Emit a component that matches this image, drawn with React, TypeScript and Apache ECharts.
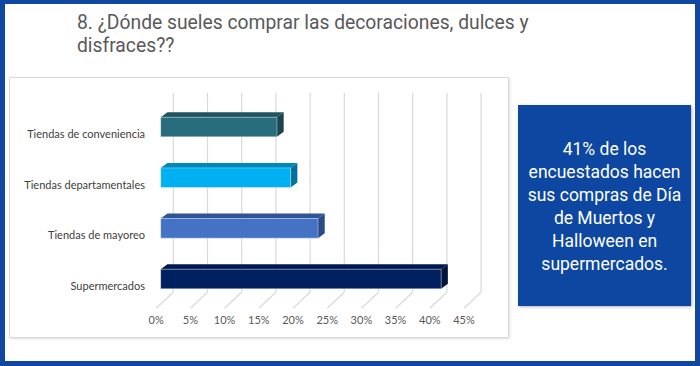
import React, { useEffect, useRef } from "react";
import * as echarts from "echarts";

const categories = [
  "Tiendas de conveniencia",
  "Tiendas departamentales",
  "Tiendas de mayoreo",
  "Supermercados",
];
const values = [17, 19, 23, 41];
const frontColors = ["#286D7C", "#00B0F0", "#4472C4", "#002060"];
const topColors = ["#1F5562", "#0088BA", "#2F5597", "#001A4F"];
const sideColors = ["#1A4550", "#00719C", "#2B4B86", "#00143E"];
const tickValues = [0, 5, 10, 15, 20, 25, 30, 35, 40, 45];
const titleLines = [
  "8. ¿Dónde sueles comprar las decoraciones, dulces y",
  "disfraces??",
];
const noteText =
  "41% de los\nencuestados hacen\nsus compras de Día\nde Muertos y\nHalloween en\nsupermercados.";

const BLUE = "#0F47A1";

export default function App() {
  const ref = useRef<HTMLDivElement>(null);
  useEffect(() => {
    if (!ref.current) return;
    const chart = echarts.init(ref.current, null, { renderer: "svg" });
    const option: any = {
      animation: false,
      backgroundColor: BLUE,
      graphic: [
        {
          type: "rect",
          z: -10,
          silent: true,
          shape: { x: 5, y: 4, width: 690, height: 357 },
          style: { fill: "#FFFFFF" },
        },
        {
          type: "rect",
          z: -9,
          silent: true,
          shape: { x: 9.5, y: 77.5, width: 499, height: 260 },
          style: {
            fill: "#FFFFFF",
            stroke: "#D9D9D9",
            lineWidth: 1,
            shadowBlur: 2,
            shadowColor: "rgba(0,0,0,0.12)",
            shadowOffsetX: 1,
            shadowOffsetY: 1,
          },
        },
        {
          type: "rect",
          z: -9,
          silent: true,
          shape: { x: 518, y: 105, width: 173, height: 201 },
          style: {
            fill: BLUE,
            shadowBlur: 3,
            shadowColor: "rgba(0,0,0,0.3)",
            shadowOffsetX: 1,
            shadowOffsetY: 1,
          },
        },
        {
          type: "text",
          x: 604.5,
          y: 206,
          style: {
            text: noteText,
            fill: "#FFFFFF",
            fontFamily: "Roboto",
            fontSize: 17.5,
            align: "center",
            verticalAlign: "middle",
            lineHeight: 23,
          },
        },
        ...titleLines.map((t, i) => ({
          type: "text",
          x: 77,
          y: 22.5 + i * 23,
          style: {
            text: t,
            fill: "#595959",
            fontFamily: "Roboto",
            fontSize: 19.3,
            align: "left",
            verticalAlign: "middle",
          },
        })),
      ],
      grid: {
        left: 160.7,
        right: 700 - (160.7 + 9 * 34.2),
        top: 101.7,
        bottom: 61.7,
        containLabel: false,
      },
      xAxis: {
        type: "value",
        min: 0,
        max: 45,
        interval: 5,
        axisLine: { show: false },
        axisTick: { show: false },
        splitLine: { show: false },
        axisLabel: {
          formatter: "{value}%",
          color: "#595959",
          fontFamily: "Lato",
          fontSize: 11,
          margin: 10,
          padding: [0, 9, 0, 0],
        },
      },
      yAxis: {
        type: "category",
        inverse: true,
        data: categories,
        axisLine: { show: false },
        axisTick: { show: false },
        splitLine: { show: false },
        axisLabel: {
          color: "#404040",
          fontFamily: "Lato",
          fontSize: 11,
          margin: 15.7,
          verticalAlign: "top",
          lineHeight: 13,
          padding: [0, 0, 0, 0],
        },
      },
      series: [
        {
          type: "custom",
          z: 1,
          silent: true,
          data: tickValues.map((v) => [v, 0]),
          encode: { x: 0, y: 1 },
          renderItem: (params: any, api: any) => {
            const cs = params.coordSys;
            const [x] = api.coord([api.value(0), 0]);
            const top = cs.y - 9;
            const backBottom = cs.y + cs.height - 12;
            const front = cs.y + cs.height + 4;
            const style = { stroke: "#D9D9D9", lineWidth: 1.2 };
            return {
              type: "group",
              children: [
                {
                  type: "line",
                  shape: { x1: x + 12.6, y1: top, x2: x + 12.6, y2: backBottom },
                  style,
                },
                {
                  type: "line",
                  shape: { x1: x + 12.6, y1: backBottom, x2: x - 4.5, y2: front },
                  style,
                },
              ],
            };
          },
        },
        {
          type: "custom",
          z: 5,
          silent: true,
          data: values.map((v, i) => [v, i]),
          encode: { x: 0, y: 1 },
          renderItem: (params: any, api: any) => {
            const i = params.dataIndex;
            const v = api.value(0);
            const idx = api.value(1);
            const [x1, yc] = api.coord([v, idx]);
            const [x0] = api.coord([0, idx]);
            const h = 19.6;
            const dx = 6.7;
            const dy = 5;
            const yt = yc - h / 2;
            const yb = yc + h / 2;
            return {
              type: "group",
              children: [
                {
                  type: "polygon",
                  shape: {
                    points: [
                      [x0, yt],
                      [x0 + dx, yt - dy],
                      [x1 + dx, yt - dy],
                      [x1, yt],
                    ],
                  },
                  style: { fill: topColors[i] },
                },
                {
                  type: "polygon",
                  shape: {
                    points: [
                      [x1, yt],
                      [x1 + dx, yt - dy],
                      [x1 + dx, yb - dy],
                      [x1, yb],
                    ],
                  },
                  style: { fill: sideColors[i] },
                },
                {
                  type: "rect",
                  shape: { x: x0, y: yt, width: x1 - x0, height: h },
                  style: {
                    fill: frontColors[i],
                    stroke: "rgba(255,255,255,0.35)",
                    lineWidth: 1,
                  },
                },
              ],
            };
          },
        },
      ],
    };
    chart.setOption(option);
    return () => chart.dispose();
  }, []);
  return (
    <div
      ref={ref}
      style={{ position: "fixed", left: 0, top: 0, width: 700, height: 366 }}
    />
  );
}
